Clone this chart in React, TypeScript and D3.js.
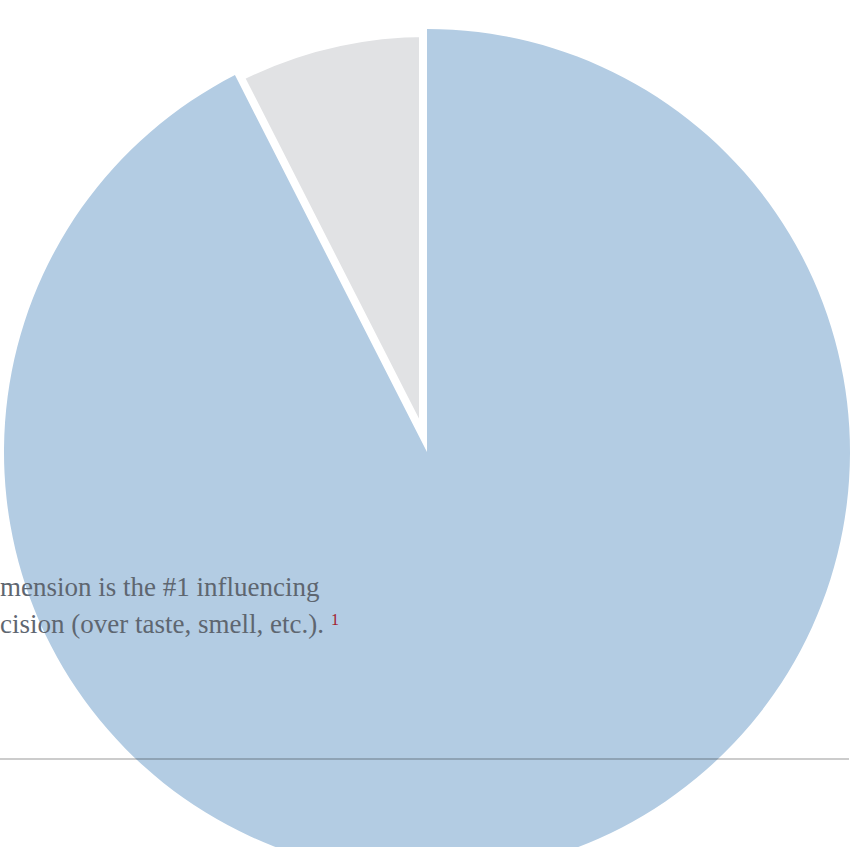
import React from "react";
import * as d3 from "d3";

const categories = ["Visual appearance / color", "Other factors"];
const values = [92.5, 7.5];
const colors = ["#b3cce3", "#e1e2e4"];
const textLines = ["mension is the #1 influencing", "cision (over taste, smell, etc.)."];
const footnote = "1";

export default function App() {
  const W = 852;
  const H = 847;
  const cx = 427;
  const cy = 452;
  const r = 423;
  const pie = d3.pie<number>().sort(null).value((d) => d)(values);
  const arc = d3.arc<d3.PieArcDatum<number>>().innerRadius(0).outerRadius(r);
  const x = d3.scaleLinear().domain([0, 1]).range([0, 849]);
  const order = [1, 0];
  return (
    <svg
      width={W}
      height={H}
      style={{ position: "absolute", left: 0, top: 0, background: "#fff" }}
    >
      <g transform={`translate(${cx},${cy})`}>
        {order.map((i) => (
          <path
            key={categories[i]}
            d={arc(pie[i]) || ""}
            fill={colors[i]}
            stroke={i === 1 ? "#fff" : "none"}
            strokeWidth={i === 1 ? 16 : 0}
            strokeLinejoin="round"
          />
        ))}
      </g>
      <g fontFamily="'Liberation Serif', serif" fontSize={27} fill="#5e6670">
        <text x={0} y={596}>{textLines[0]}</text>
        <text x={0} y={633}>{textLines[1]}</text>
        <text x={331} y={625} fontSize={16} fill="#a3202e">{footnote}</text>
      </g>
      <line x1={x(0)} x2={x(1)} y1={759} y2={759} stroke="rgba(0,0,0,0.2)" strokeWidth={2} />
    </svg>
  );
}
